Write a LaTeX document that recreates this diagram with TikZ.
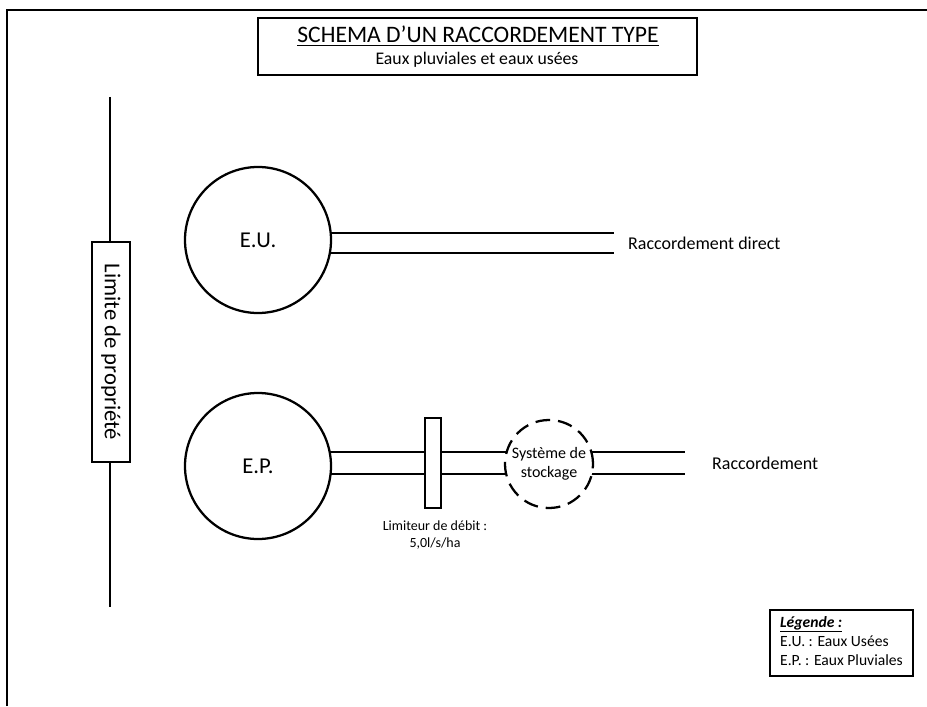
\documentclass[tikz,border=0pt]{standalone}
\usepackage{fontspec}
\setmainfont{Carlito}
\usetikzlibrary{backgrounds}
\begin{document}
\begin{tikzpicture}[x=0.75pt,y=-0.75pt,line width=1.7pt,
  bigcirc/.style={circle,draw,fill=white,inner sep=0pt,minimum size=109.5pt,font=\fontsize{17}{20}\selectfont},
  pipe/.style={line width=1.7pt},
  lbl/.style={inner sep=0pt,font=\fontsize{13.5}{16}\selectfont},
  small/.style={inner sep=0pt,align=center,font=\fontsize{10.5}{12.5}\selectfont}]
\useasboundingbox (0,0) rectangle (927,706);
% outer frame
\coordinate (f0) at (7,706);
\coordinate (f1) at (7,10);
\coordinate (f2) at (927,10);
\draw[line width=1.4pt] (f0) -- (f1) -- (f2);
% title
\node[draw,line width=1.4pt,minimum width=329pt,minimum height=42.75pt,inner sep=0pt] (titlebox) at (477.5,46.5) {};
\node[inner sep=0pt,anchor=base,font=\fontsize{17.7}{21}\selectfont] (title) at (478,43) {\underline{SCHEMA D’UN RACCORDEMENT TYPE}};
\node[inner sep=0pt,anchor=base,font=\fontsize{13.3}{16}\selectfont] (subtitle) at (477,65) {Eaux pluviales et eaux usées};
% property line
\coordinate (pl0) at (110,97);
\coordinate (pl1) at (110,607);
\node[draw,fill=white,line width=1.3pt,minimum width=29pt,minimum height=165pt,inner sep=0pt] (plbox) at (111,352) {};
\node[rotate=-90,inner sep=0pt,font=\fontsize{17}{20}\selectfont] (pltext) at (111,352) {Limite de propriété};
\begin{scope}[on background layer]
\draw[line width=2pt] (pl0) -- (pl1);
\end{scope}
% EU
\node[bigcirc] (eu) at (258,240) {E.U.};
\coordinate (eu1) at (614,233);
\coordinate (eu2) at (614,253);
\begin{scope}[on background layer]
\draw[pipe] (eu.center |- eu1) -- (eu1);
\draw[pipe] (eu.center |- eu2) -- (eu2);
\end{scope}
\node[lbl,anchor=west] (eulbl) at (627,243) {Raccordement direct};
% EP
\node[bigcirc] (ep) at (258,466) {E.P.};
\node[draw,fill=white,line width=1.5pt,minimum width=12pt,minimum height=67pt,inner sep=0pt] (lim) at (432.5,463) {};
\node[circle,draw,fill=white,dashed,dash pattern=on 11pt off 6pt,line width=1.7pt,inner sep=0pt,minimum size=66pt,align=center,font=\fontsize{12}{14}\selectfont] (sto) at (549,464) {Système de\\stockage};
\coordinate (ep1) at (685,452);
\coordinate (ep2) at (685,474);
\begin{scope}[on background layer]
\draw[pipe] (ep.center |- ep1) -- (sto.center |- ep1);
\draw[pipe] (ep.center |- ep2) -- (sto.center |- ep2);
\draw[pipe] (sto.center |- ep1) -- (ep1);
\draw[pipe] (sto.center |- ep2) -- (ep2);
\end{scope}
\node[lbl,anchor=west] (eplbl) at (711,463) {Raccordement};
\node[small,anchor=north] (limlbl) at (435,520) {Limiteur de débit :\\5,0l/s/ha};
% legend
\node[draw,line width=1.3pt,minimum width=107pt,minimum height=49.5pt,inner sep=0pt] (legbox) at (841.5,643) {};
\node[anchor=north west,inner sep=0pt,align=left,font=\fontsize{11.7}{14.25}\selectfont] (leg) at (779,615) {\textbf{\textit{\underline{Légende :}}}\\E.U. : Eaux Usées\\E.P. : Eaux Pluviales};
\end{tikzpicture}
\end{document}
